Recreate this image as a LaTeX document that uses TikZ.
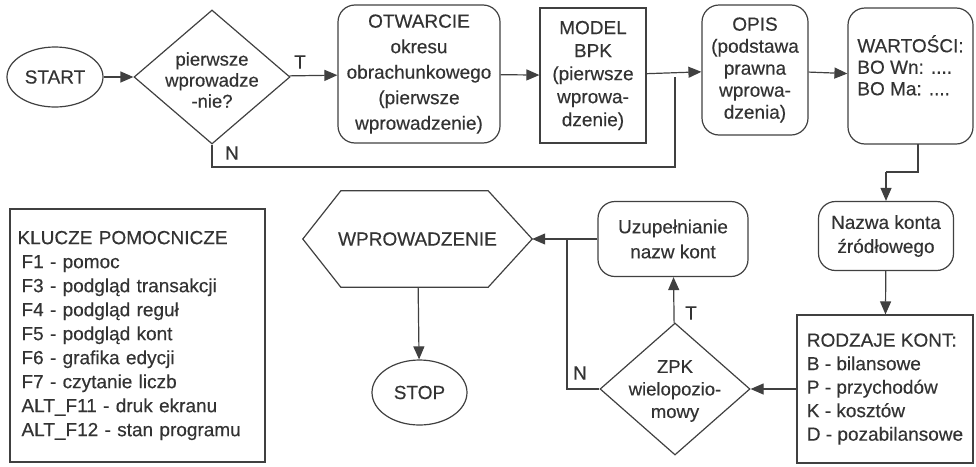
\documentclass[tikz,border=0pt]{standalone}
\usepackage{fontspec}
\setmainfont{Liberation Sans}[FakeBold=0.35]
\usetikzlibrary{shapes.geometric,arrows.meta,calc}

\begin{document}
\begin{tikzpicture}[x=1pt,y=-1pt,
  ink/.style={black!80},
  every node/.style={ink, font=\fontsize{19}{23}\selectfont},
  line/.style={draw=black!75, line width=1.2pt},
  arr/.style={line, -{Triangle[length=13pt,width=11pt]}},
  rbox/.style={line, rounded corners=17pt, inner sep=0pt, align=center},
  sbox/.style={line, inner sep=0pt, align=center},
  oval/.style={line, ellipse, inner sep=0pt},
  dia/.style={line, diamond, inner sep=0pt},
  dtext/.style={align=center, inner sep=0pt, font=\fontsize{18.5}{21}\selectfont},
  lbl/.style={inner sep=0pt}]

\useasboundingbox (0,0) rectangle (976,466);

% top row
\node[oval, minimum width=96, minimum height=60] (start) at (55,77) {START};
\node[dia, minimum width=156, minimum height=134] (d1) at (212,77) {};
\node[dtext] (d1t) at (212,80) {pierwsze\\wprowadze\\-nie?};
\node[rbox, minimum width=162, minimum height=138,
      font=\fontsize{19}{25.5}\selectfont] (otw) at (419,74)
  {OTWARCIE\\okresu\\obrachunkowego\\(pierwsze\\wprowadzenie)};
\node[sbox, minimum width=106, minimum height=135] (model) at (593,75.5)
  {MODEL\\BPK\\(pierwsze\\wprowa-\\dzenie)};
\node[rbox, minimum width=106, minimum height=130,
      font=\fontsize{19}{22}\selectfont] (opis) at (755,70)
  {OPIS\\(podstawa\\prawna\\wprowa-\\dzenia)};
\node[rbox, minimum width=125, minimum height=136, align=left,
      font=\fontsize{19}{21.5}\selectfont] (wart) at (910.5,76)
  {WARTOŚCI:\\BO Wn: ....\\BO Ma: ....\\\mbox{}};

% right column
\node[rbox, minimum width=135, minimum height=69,
      font=\fontsize{19}{24}\selectfont] (nazwa) at (886,236)
  {Nazwa konta\\źródłowego};
\node[sbox, minimum width=176, minimum height=148,
      align=left, font=\fontsize{19}{23.5}\selectfont] (rodz) at (885,389)
  {RODZAJE KONT:\\B - bilansowe\\P - przychodów\\K - kosztów\\D - pozabilansowe};

% middle
\node[dia, minimum width=150, minimum height=132] (zpk) at (675,389) {};
\node[dtext, font=\fontsize{18.5}{22.5}\selectfont] (zpkt) at (675,391)
  {ZPK\\wielopozio-\\mowy};
\node[rbox, minimum width=150, minimum height=75,
      font=\fontsize{19}{25}\selectfont] (uzup) at (673,239)
  {Uzupełnianie\\nazw kont};
\node[inner sep=0pt, minimum width=229, minimum height=96] (hex) at (417.5,239)
  {WPROWADZENIE};
\draw[line] (hex.west) -- ([xshift=38]hex.north west) -- ([xshift=-44]hex.north east)
  -- (hex.east) -- ([xshift=-44]hex.south east) -- ([xshift=38]hex.south west) -- cycle;
\node[oval, minimum width=95, minimum height=65] (stop) at (419.5,392.5) {STOP};

% auxiliary keys
\node[sbox, minimum width=255, minimum height=253, text width=240, align=left,
      font=\fontsize{19}{24}\selectfont] (keys) at (137.5,335.5)
  {KLUCZE POMOCNICZE\\
   \hspace*{4pt}F1 - pomoc\\
   \hspace*{4pt}F3 - podgląd transakcji\\
   \hspace*{4pt}F4 - podgląd reguł\\
   \hspace*{4pt}F5 - podgląd kont\\
   \hspace*{4pt}F6 - grafika edycji\\
   \hspace*{4pt}F7 - czytanie liczb\\
   \hspace*{4pt}ALT\_F11 - druk ekranu\\
   \hspace*{4pt}ALT\_F12 - stan programu};

% junction points
\coordinate (j1) at (675,77);
\coordinate (nb) at (675,167);
\coordinate (wo) at (918,144);
\coordinate (wk) at (918,172);
\coordinate (wn) at (886,172);
\coordinate (j2) at (567,239);
\coordinate (zl) at (567,389);

% connectors
\draw[arr] (start) -- (d1);
\draw[arr] (d1) -- (otw);
\node[lbl] (tlab) at (300,62) {T};
\draw[arr] (otw) -- (model);
\draw[arr] (model) -- (opis);
\draw[line] (d1.south) |- (nb) -- (j1);
\node[lbl] (nlab) at (232,153) {N};
\draw[arr] (opis) -- (wart);
\draw[line] (wo) -- (wk) -- (wn);
\draw[arr] (wn) -- (nazwa.north);
\draw[arr] (nazwa) -- (rodz);
\draw[arr] (rodz) -- (zpk);
\draw[arr] (zpk) -- (uzup);
\node[lbl] (tlab2) at (691,313) {T};
\draw[arr] (uzup) -- (hex);
\draw[line] (zpk.west) -- (zl) -- (j2);
\node[lbl] (nlab2) at (580,373) {N};
\draw[arr] (hex) -- (stop);
\end{tikzpicture}
\end{document}
